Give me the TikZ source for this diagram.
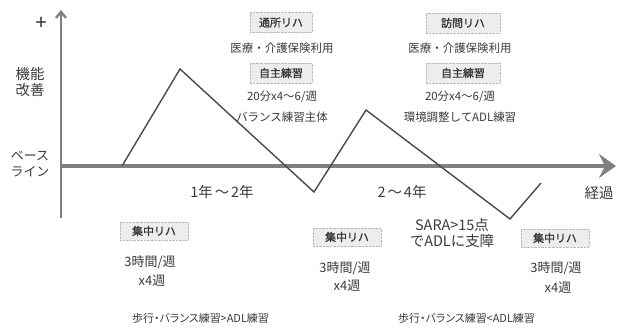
\documentclass[tikz,border=0pt]{standalone}
\usepackage{fontspec}
\setmainfont{Noto Sans CJK JP}[AutoFakeBold=1.5]
\newfontfamily\jpprop{Noto Sans CJK JP}[RawFeature=+palt]
\usetikzlibrary{arrows.meta}
\definecolor{txt}{HTML}{3A3A3A}
\definecolor{axisgray}{HTML}{808080}
\definecolor{linegray}{HTML}{4A4A4A}
\begin{document}
\begin{tikzpicture}[x=1bp,y=-1bp,
  lbl/.style={font=\fontsize{11.5}{13}\selectfont, text=txt, inner sep=0pt},
  midlbl/.style={font=\fontsize{13}{14}\selectfont, text=txt, inner sep=0pt},
  biglbl/.style={font=\fontsize{14.5}{15}\selectfont, text=txt, inner sep=0pt},
  botlbl/.style={font=\jpprop\fontsize{11}{13}\selectfont, text=txt, inner sep=0pt},
  tagbox/.style={draw=gray!55, densely dotted, fill=gray!14, text=txt,
    font=\fontsize{11}{12}\selectfont\bfseries, inner sep=0pt,
    minimum height=20bp},
  zig/.style={draw=linegray, line width=1.4bp, line join=miter},
]
\useasboundingbox (0,0) rectangle (618,328);

% axes
\coordinate (ybot) at (61,218);
\coordinate (ytop) at (61,10);
\coordinate (xl) at (61,166);
\coordinate (xr) at (616,166);
\draw[axisgray, line width=2.4bp, -{Straight Barb[length=6bp,width=10bp]}] (ybot) -- (ytop);
\draw[axisgray, line width=4bp, -{Stealth[length=17bp,width=24bp,inset=6bp]}] (xl) -- (xr);

% axis labels
\node[font=\fontsize{19}{19}\selectfont\bfseries, text=txt, inner sep=0pt] (plus) at (41,23) {+};
\node[biglbl, align=center] (kino) at (30,82) {機能\\[1bp]改善};
\node[midlbl, align=center] (base) at (30,164) {ベース\\[2bp]ライン};
\node[biglbl] (p1) at (222,192) {1年\hspace{2bp}～\hspace{2bp}2年};
\node[biglbl] (p2) at (402,192) {2\hspace{2bp}～\hspace{2bp}4年};
\node[biglbl] (keika) at (599,193) {経過};

% zigzag
\coordinate (z0) at (122,166);
\coordinate (z1) at (180,69);
\coordinate (z2) at (314,192);
\coordinate (z3) at (366,110);
\coordinate (z4) at (510,219);
\coordinate (z5) at (541,183);
\draw[zig] (z0) -- (z1) -- (z2) -- (z3) -- (z4) -- (z5);

% upper left group
\node[tagbox, minimum width=62bp] (tsusho) at (281,22.5) {通所リハ};
\node[lbl] (iryo1) at (282,48) {医療・介護保険利用};
\node[tagbox, minimum width=62bp] (jishu1) at (281,73) {自主練習};
\node[lbl] (freq1) at (282,97) {20分x4～6/週};
\node[lbl] (bal1) at (282,117) {バランス練習主体};

% upper right group
\node[tagbox, minimum width=74bp] (homon) at (463,23) {訪問リハ};
\node[lbl] (iryo2) at (460,48) {医療・介護保険利用};
\node[tagbox, minimum width=74bp] (jishu2) at (463,73) {自主練習};
\node[lbl] (freq2) at (460,97) {20分x4～6/週};
\node[lbl] (adl2) at (460,117) {環境調整してADL練習};

% lower groups
\node[tagbox, minimum width=68bp, minimum height=18bp] (sh1) at (154,231) {集中リハ};
\node[midlbl] (h1) at (150,262) {3時間/週};
\node[midlbl] (w1) at (152,281) {x4週};

\node[tagbox, minimum width=68bp, minimum height=18bp] (sh2) at (347,237) {集中リハ};
\node[midlbl] (h2) at (345,268) {3時間/週};
\node[midlbl] (w2) at (347,286) {x4週};

\node[biglbl, align=center] (sara) at (452,233) {SARA>15点\\[1bp]でADLに支障};

\node[tagbox, minimum width=68bp, minimum height=18bp] (sh3) at (555,238) {集中リハ};
\node[midlbl] (h3) at (556,268) {3時間/週};
\node[midlbl] (w3) at (558,288) {x4週};

\node[botlbl, anchor=west] (bot1) at (132,318) {歩行・バランス練習>ADL練習};
\node[botlbl, anchor=west] (bot2) at (398,318) {歩行・バランス練習<ADL練習};
\end{tikzpicture}
\end{document}
